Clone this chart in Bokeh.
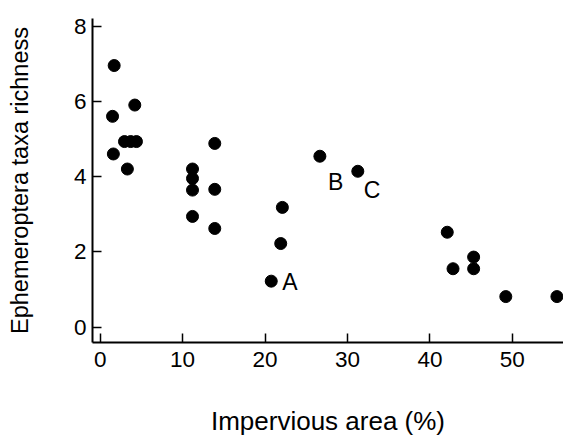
from bokeh.plotting import figure
from bokeh.models import Range1d, FixedTicker, ColumnDataSource, LinearAxis
from bokeh.core.properties import value
from bokeh.embed import file_html
from bokeh.resources import INLINE

# Data
impervious = [1.7, 1.5, 4.2, 1.6, 3.3, 2.95, 3.7, 4.4,
              11.2, 11.2, 11.2, 11.2, 13.9, 13.9, 13.9,
              22.1, 21.9, 20.75, 26.65, 31.25,
              42.1, 42.8, 45.3, 45.3, 49.2, 55.4]
richness = [6.95, 5.6, 5.9, 4.6, 4.2, 4.93, 4.93, 4.93,
            4.2, 3.95, 3.64, 2.94, 4.88, 3.66, 2.62,
            3.18, 2.22, 1.22, 4.54, 4.14,
            2.52, 1.55, 1.86, 1.55, 0.81, 0.81]
site_labels = ["A", "B", "C"]
site_x = [20.75, 26.65, 31.25]
site_y = [1.22, 4.54, 4.14]
x_ticks = [0, 10, 20, 30, 40, 50]
y_ticks = [0, 2, 4, 6, 8]
x_title = "Impervious area (%)"
y_title = "Ephemeroptera taxa richness"

FONT = "Liberation Sans"
X0, X1, Y0, Y1 = -0.93, 56.2, -0.41, 8.2

p = figure(width=563, height=438, output_backend="svg", toolbar_location=None,
           x_range=Range1d(X0, X1), y_range=Range1d(Y0, Y1),
           min_border_left=92, min_border_right=0, min_border_top=18,
           min_border_bottom=96)
p.outline_line_color = None
p.grid.visible = False
p.background_fill_color = "white"
p.border_fill_color = "white"

p.xaxis.ticker = FixedTicker(ticks=x_ticks)
p.yaxis.ticker = FixedTicker(ticks=y_ticks)
for ax in (p.xaxis, p.yaxis):
    ax.axis_line_width = 2
    ax.axis_line_color = "black"
    ax.major_tick_in = 9
    ax.major_tick_out = 0
    ax.major_tick_line_width = 1.5
    ax.major_tick_line_color = "black"
    ax.minor_tick_line_color = None
    ax.major_label_text_font = FONT
    ax.major_label_text_font_size = "22.5px"
    ax.major_label_text_color = "black"
    ax.axis_label_text_font = FONT
    ax.axis_label_text_font_style = "normal"
    ax.axis_label_text_color = "black"

p.xaxis.axis_label = x_title
p.xaxis.axis_label_text_font_size = "26px"
p.xaxis.major_label_standoff = 9
p.xaxis.axis_label_standoff = 36
p.yaxis.major_label_standoff = 6

# Outer left axis carrying only the title, centred a little above the frame centre
ytitle_axis = LinearAxis(axis_label=y_title, bounds=(1.02, 8.2),
                         ticker=FixedTicker(ticks=[]),
                         axis_line_color=None, major_tick_line_color=None,
                         minor_tick_line_color=None,
                         major_tick_in=0, major_tick_out=0,
                         major_label_text_font_size="0px",
                         major_label_standoff=0,
                         axis_label_standoff=38,
                         axis_label_text_font=FONT,
                         axis_label_text_font_size="23.5px",
                         axis_label_text_font_style="normal",
                         axis_label_text_color="black")
p.add_layout(ytitle_axis, "left")

src = ColumnDataSource(dict(x=impervious, y=richness))
p.scatter("x", "y", source=src, size=12, color="black")

lab = ColumnDataSource(dict(x=site_x, y=site_y, t=site_labels,
                            xo=[11, 8, 6], yo=[1, 26, 19]))
p.text("x", "y", text="t", source=lab, x_offset="xo", y_offset="yo",
       text_font=value(FONT), text_font_size="23px", text_color="black",
       text_baseline="alphabetic", text_align="left")

open("out.html", "w").write(file_html(p, INLINE))
